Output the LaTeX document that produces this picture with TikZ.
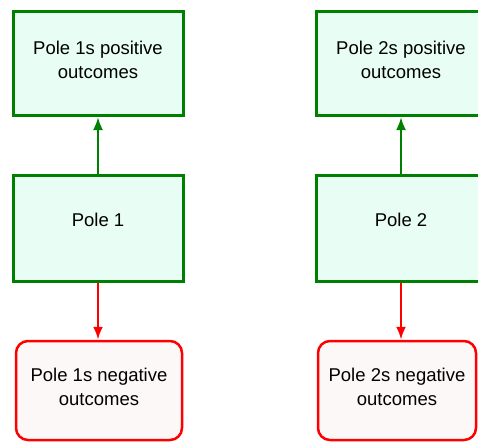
\documentclass[tikz,border=0pt]{standalone}
\usepackage{fontspec}
\setmainfont{Liberation Sans}
\usetikzlibrary{arrows.meta}

\definecolor{polegreen}{RGB}{0,128,0}
\definecolor{polefill}{RGB}{232,253,243}
\definecolor{negfill}{RGB}{253,248,248}

\tikzset{
	polebox/.style={rectangle, draw=polegreen, fill=polefill, line width=3pt, minimum width=170pt, align=center, inner sep=0pt, font=\fontsize{18.5}{24}\selectfont},
	negbox/.style={rectangle, rounded corners=12pt, draw=red, fill=negfill, line width=2.5pt, minimum height=99pt, align=center, inner sep=0pt, font=\fontsize{18.5}{24}\selectfont},
	posarrow/.style={-{Latex[length=13pt, width=10pt]}, draw=polegreen, line width=2.5pt},
	negarrow/.style={-{Latex[length=13pt, width=10pt]}, draw=red, line width=2.5pt}
}

\begin{document}
\begin{tikzpicture}[x=1pt, y=-1pt]

\useasboundingbox (0, 0) rectangle (478, 441);

% pole 1
\node (pos1) at (98, 63.5) [polebox, minimum height=104pt, text depth=8pt] {Pole 1s positive\\outcomes};
\node (pole1) at (98, 228) [polebox, minimum height=106pt, text depth=16pt] {Pole 1};
\node (neg1) at (99, 390.5) [negbox, minimum width=166pt, text depth=8pt] {Pole 1s negative\\outcomes};

% pole 2
\node (pos2) at (401, 63.5) [polebox, minimum height=104pt, text depth=8pt] {Pole 2s positive\\outcomes};
\node (pole2) at (401, 228) [polebox, minimum height=106pt, text depth=16pt] {Pole 2};
\node (neg2) at (397, 390.5) [negbox, minimum width=158pt, text depth=8pt] {Pole 2s negative\\outcomes};

\draw[posarrow] (pole1) -- (pos1);
\draw[negarrow] (pole1) -- (neg1.north -| pole1);
\draw[posarrow] (pole2) -- (pos2);
\draw[negarrow] (pole2) -- (neg2.north -| pole2);

\end{tikzpicture}
\end{document}
